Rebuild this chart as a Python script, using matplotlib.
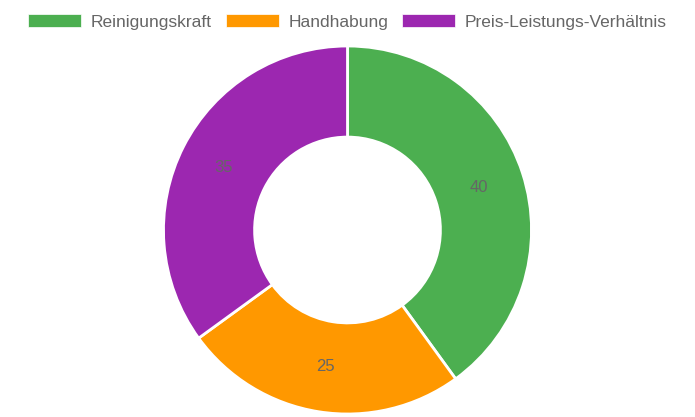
import matplotlib.pyplot as plt
from matplotlib.patches import Patch

labels = ['Reinigungskraft', 'Handhabung', 'Preis-Leistungs-Verhältnis']
values = [40, 25, 35]
colors = ['#4CAF50', '#FF9800', '#9C27B0']

plt.rcParams['font.family'] = ['Liberation Sans', 'DejaVu Sans']

W, H = 695, 417
fig = plt.figure(figsize=(W / 100, H / 100), dpi=100)

# donut centre and radius in pixels
cx, cy, r = 347.5, 230, 184
ax = fig.add_axes([(cx - r) / W, (H - cy - r) / H, 2 * r / W, 2 * r / H])

wedges, _, texts = ax.pie(values, colors=colors, startangle=90, counterclock=False,
                          radius=1.0, labels=None, autopct='%d',
                          pctdistance=0.753,
                          wedgeprops=dict(width=0.495, edgecolor='white', linewidth=2),
                          textprops=dict(color='#666666', fontsize=12))
for t, v in zip(texts, values):
    t.set_text(str(v))
ax.set_xlim(-1.0, 1.0)
ax.set_ylim(-1.0, 1.0)
ax.set_aspect('equal')
ax.axis('off')

handles = [Patch(facecolor=c, edgecolor='white', linewidth=0.5) for c in colors]
leg = fig.legend(handles, labels, loc='center', bbox_to_anchor=(cx / W, 1 - 22 / H),
                 ncol=3, frameon=False, fontsize=12.5, labelcolor='#666666',
                 handlelength=3.05, handleheight=0.75, handletextpad=0.57,
                 columnspacing=0.8)

fig.savefig('out.png', dpi=100)
